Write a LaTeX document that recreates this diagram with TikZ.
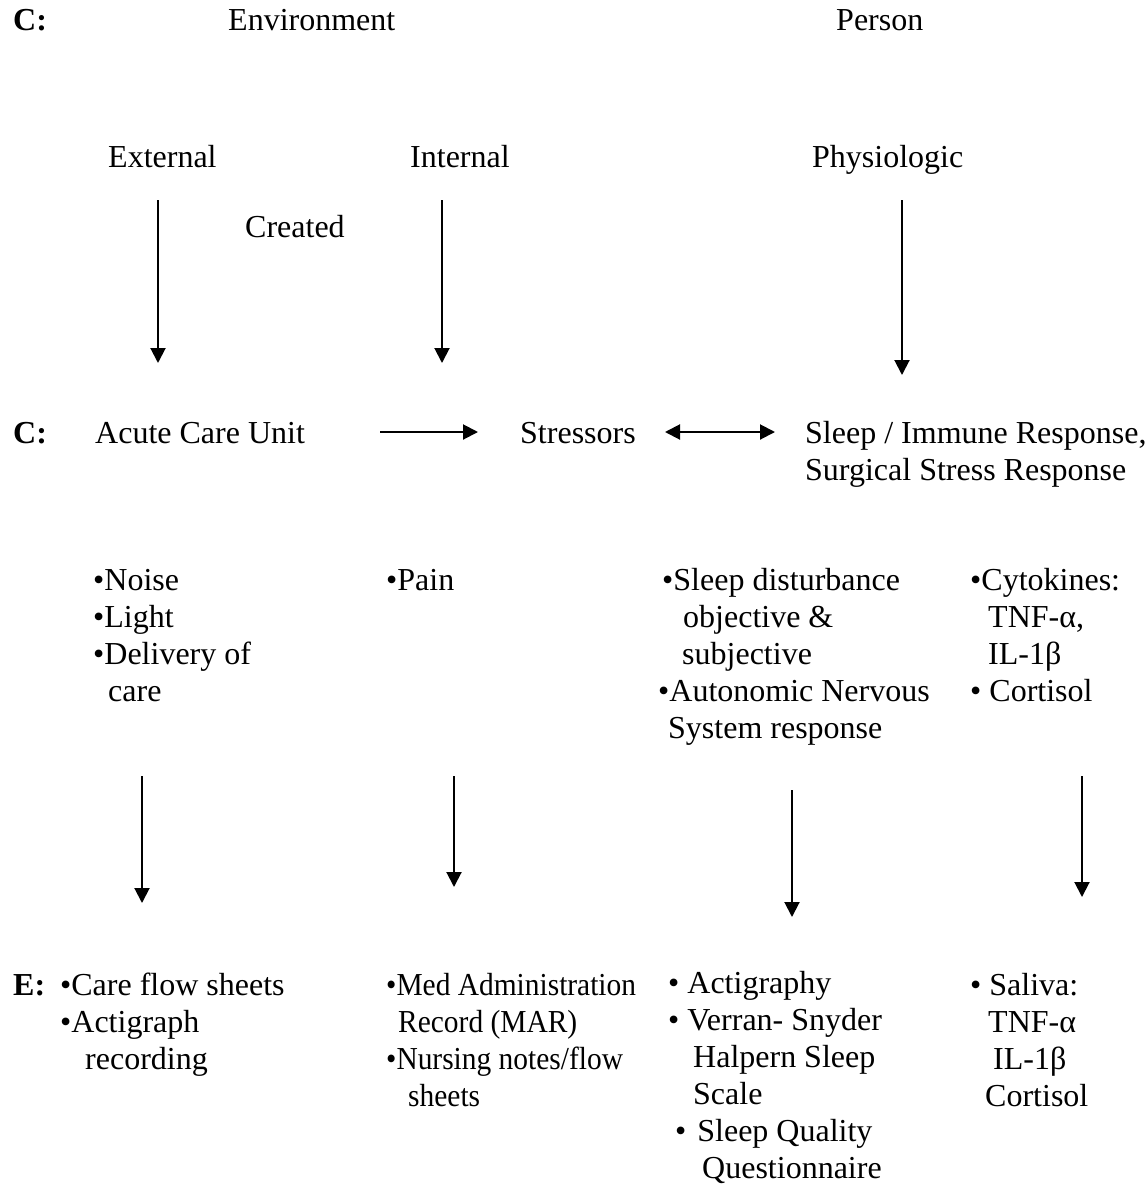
\documentclass[tikz,border=0pt]{standalone}
\usepackage{fontspec}
\setmainfont{Liberation Serif}
\newfontfamily\narrowfont[FakeStretch=0.92]{Liberation Serif}
\usetikzlibrary{arrows.meta}
\tikzset{
  txt/.style={anchor=base west, inner sep=0pt, align=left, font=\fontsize{32}{37}\selectfont},
  hd/.style={txt, font=\fontsize{32}{37}\selectfont\bfseries},
  arr/.style={line width=2pt, -{Triangle[length=15pt,width=15pt]}},
  darr/.style={line width=2pt, {Triangle[length=15pt,width=15pt]}-{Triangle[length=15pt,width=15pt]}},
}
\begin{document}
\begin{tikzpicture}[x=1pt,y=-1pt]
    \useasboundingbox (0,0) rectangle (1148,1184);

    % base of a multi-line node = baseline of its last line
    \node[hd] (c1) at (13,30) {C:};
    \node[txt] (env) at (228,30) {Environment};
    \node[txt] (per) at (836,30) {Person};

    \node[txt] (ext) at (108,167) {External};
    \node[txt] (int) at (410,167) {Internal};
    \node[txt] (phy) at (812,167) {Physiologic};
    \node[txt] (cre) at (245,237) {Created};

    \coordinate (ext-a) at (158,200);
    \coordinate (ext-b) at (158,363);
    \coordinate (int-a) at (442,200);
    \coordinate (int-b) at (442,363);
    \coordinate (phy-a) at (902,200);
    \coordinate (phy-b) at (902,375);
    \draw[arr] (ext-a) -- (ext-b);
    \draw[arr] (int-a) -- (int-b);
    \draw[arr] (phy-a) -- (phy-b);

    \node[hd] (c2) at (13,443) {C:};
    \node[txt] (acu) at (95,443) {Acute Care Unit};
    \node[txt] (str) at (520,443) {Stressors};
    \node[txt] (slp) at (805,480) {Sleep / Immune Response,\\Surgical Stress Response};

    \coordinate (acu-a) at (380,432);
    \coordinate (acu-b) at (478,432);
    \coordinate (str-a) at (665,432);
    \coordinate (str-b) at (775,432);
    \draw[arr] (acu-a) -- (acu-b);
    \draw[darr] (str-a) -- (str-b);

    \node[txt] (noise) at (93,701) {•Noise\\•Light\\•Delivery of\\\hspace*{15pt}care};
    \node[txt] (pain) at (386,590) {•Pain};
    \node[txt] (dist) at (662,738) {•Sleep disturbance\\\hspace*{21pt}objective \&\\\hspace*{20pt}subjective\\\hspace*{-4pt}•Autonomic Nervous\\\hspace*{6pt}System response};
    \node[txt] (cyto) at (970,701) {•Cytokines:\\\hspace*{18pt}TNF-α,\\\hspace*{18pt}IL-1β\\• Cortisol};

    \coordinate (noise-a) at (142,776);
    \coordinate (noise-b) at (142,903);
    \coordinate (pain-a) at (454,776);
    \coordinate (pain-b) at (454,887);
    \coordinate (dist-a) at (792,790);
    \coordinate (dist-b) at (792,917);
    \coordinate (cyto-a) at (1082,776);
    \coordinate (cyto-b) at (1082,897);
    \draw[arr] (noise-a) -- (noise-b);
    \draw[arr] (pain-a) -- (pain-b);
    \draw[arr] (dist-a) -- (dist-b);
    \draw[arr] (cyto-a) -- (cyto-b);

    \node[hd] (e) at (13,995) {E:};
    \node[txt] (care) at (60,1069) {•Care flow sheets\\•Actigraph\\\hspace*{25pt}recording};
    \node[txt, font=\fontsize{32}{37}\narrowfont] (med) at (386,1106) {•Med Administration\\\hspace*{12pt}Record (MAR)\\•Nursing notes/flow\\\hspace*{22pt}sheets};
    \node[txt] (acti) at (668,1178) {• Actigraphy\\• Verran- Snyder\\\hspace*{25pt}Halpern Sleep\\\hspace*{25pt}Scale\\\hspace*{7pt}•\hspace*{11pt}Sleep Quality\\\hspace*{34pt}Questionnaire};
    \node[txt] (sal) at (970,1106) {• Saliva:\\\hspace*{18pt}TNF-α\\\hspace*{23pt}IL-1β\\\hspace*{15pt}Cortisol};
\end{tikzpicture}
\end{document}
